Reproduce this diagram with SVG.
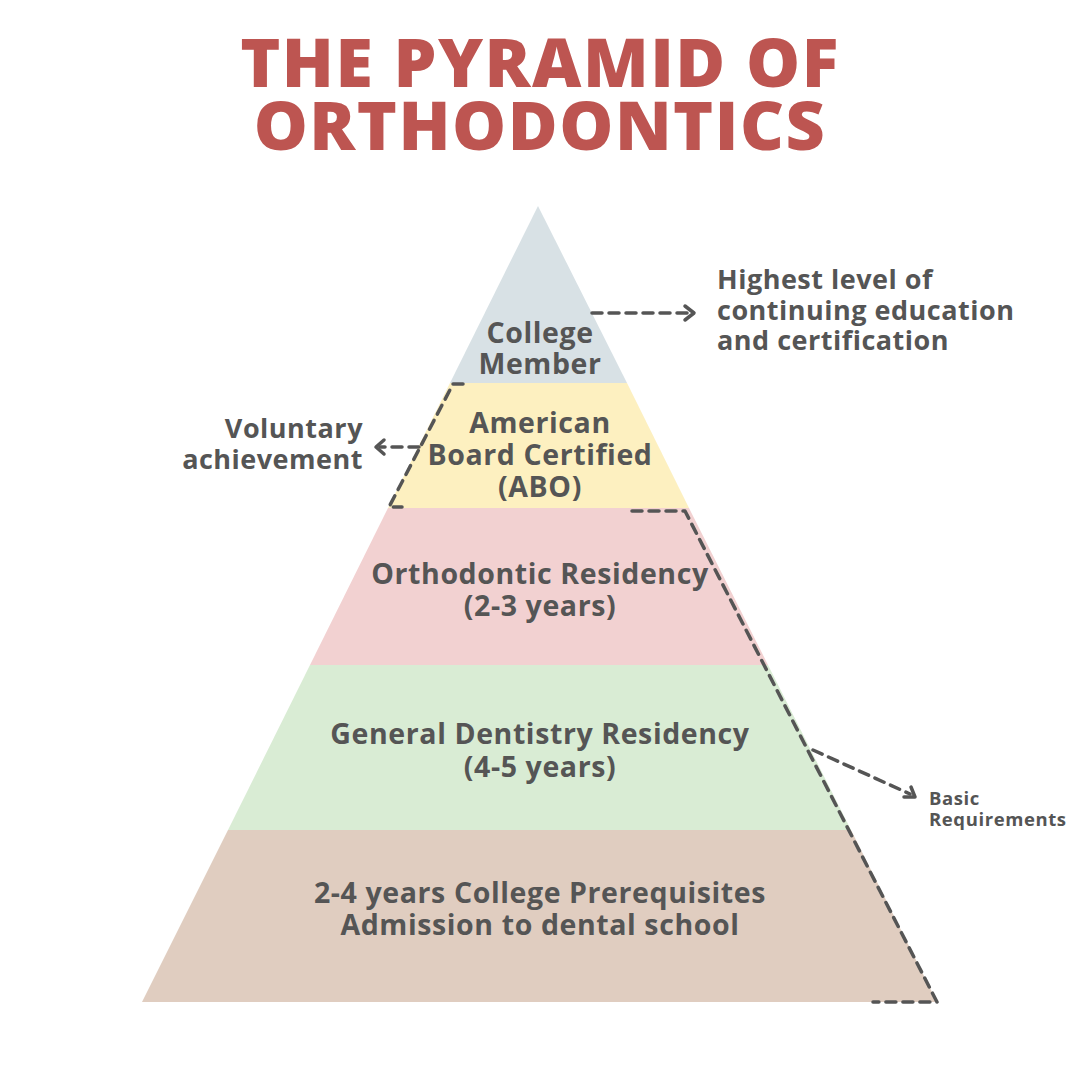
<svg xmlns="http://www.w3.org/2000/svg" width="1080" height="1080" viewBox="0 0 1080 1080">
<defs>
<style>
.title{font-family:"Open Sans","Liberation Sans",sans-serif;font-weight:800;font-size:68px;fill:#bd5551;text-anchor:middle;letter-spacing:1.5px}
.lbl{font-family:"Open Sans","Liberation Sans",sans-serif;font-weight:700;font-size:28.5px;fill:#555555;text-anchor:middle;letter-spacing:0.6px}
.side{font-family:"Open Sans","Liberation Sans",sans-serif;font-weight:700;font-size:27px;fill:#555555;letter-spacing:0.5px}
.small{font-family:"Open Sans","Liberation Sans",sans-serif;font-weight:700;font-size:18.5px;fill:#555555;letter-spacing:0.6px}
.dash{fill:none;stroke:#555555;stroke-width:3.5;stroke-dasharray:10 7;stroke-linecap:round;stroke-linejoin:round}
.head{fill:none;stroke:#555555;stroke-width:3.5;stroke-linecap:round;stroke-linejoin:round}
</style>
</defs>
<rect width="1080" height="1080" fill="#ffffff"/>
<g id="title">
<text class="title" x="540" y="87">THE PYRAMID OF</text>
<text class="title" x="540" y="150">ORTHODONTICS</text>
</g>
<g id="level-college-member">
<polygon points="538,206 627,383 450,383" fill="#d8e1e5"/>
<text class="lbl" x="540" y="343">College</text>
<text class="lbl" x="540" y="374">Member</text>
</g>
<g id="level-abo">
<polygon points="450,383 627,383 689,508 388,508" fill="#fdf0c0"/>
<text class="lbl" x="540" y="433">American</text>
<text class="lbl" x="540" y="465">Board Certified</text>
<text class="lbl" x="540" y="497">(ABO)</text>
</g>
<g id="level-ortho-residency">
<polygon points="388,508 689,508 768,665 310,665" fill="#f2d1d1"/>
<text class="lbl" x="540" y="584">Orthodontic Residency</text>
<text class="lbl" x="540" y="616">(2-3 years)</text>
</g>
<g id="level-general-dentistry">
<polygon points="310,665 768,665 851,830 228,830" fill="#d9ecd4"/>
<text class="lbl" x="540" y="744">General Dentistry Residency</text>
<text class="lbl" x="540" y="777">(4-5 years)</text>
</g>
<g id="level-college-prereq">
<polygon points="228,830 851,830 937,1002 142,1002" fill="#e0cdc0"/>
<text class="lbl" x="540" y="903">2-4 years College Prerequisites</text>
<text class="lbl" x="540" y="935">Admission to dental school</text>
</g>
<g id="note-highest">
<text class="side" x="717" y="289">Highest level of</text>
<text class="side" x="717" y="320">continuing education</text>
<text class="side" x="717" y="350">and certification</text>
</g>
<g id="note-voluntary">
<text class="side" x="363" y="438" text-anchor="end">Voluntary</text>
<text class="side" x="363" y="469" text-anchor="end">achievement</text>
</g>
<g id="note-basic">
<text class="small" x="929" y="805">Basic</text>
<text class="small" x="929" y="826">Requirements</text>
</g>
<g id="connectors">
<path class="dash" d="M592,313 H690"/>
<path class="head" d="M685,306 L694,313 L685,320"/>
<path class="dash" d="M463,384 H453 L389,507 H402"/>
<path class="dash" d="M419,447 H380"/>
<path class="head" d="M384,440 L376,447 L384,454"/>
<path class="dash" d="M632,511 H685 L937,1002 H873"/>
<path class="dash" d="M813,750 L910,794"/>
<path class="head" d="M904,797 L915,797 L911,787"/>
</g>
</svg>
